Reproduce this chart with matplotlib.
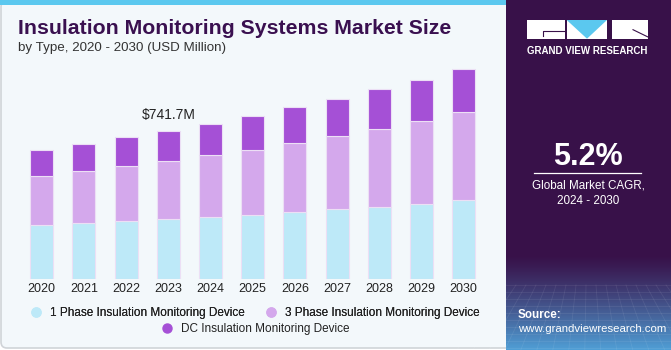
import numpy as np
import matplotlib.pyplot as plt
from matplotlib.patches import FancyBboxPatch, Rectangle, Polygon
from matplotlib.lines import Line2D

plt.rcParams["font.family"] = ["Liberation Sans", "DejaVu Sans"]

# Data (USD Million)
years = ["2020", "2021", "2022", "2023", "2024", "2025", "2026", "2027", "2028", "2029", "2030"]
phase1 = [269.6, 279.5, 289.5, 301.0, 311.0, 322.4, 335.8, 349.3, 360.8, 377.0, 395.7]
phase3 = [246.0, 261.0, 274.5, 289.5, 309.4, 324.4, 344.3, 365.8, 389.0, 412.6, 437.6]
dc = [128.3, 134.7, 144.7, 151.2, 156.2, 168.2, 178.1, 183.0, 198.0, 206.0, 217.6]
series_names = ["1 Phase Insulation Monitoring Device",
                "3 Phase Insulation Monitoring Device",
                "DC Insulation Monitoring Device"]
colors = ["#bde9f8", "#d4a8ec", "#a550d6"]

W, H = 671, 350
fig = plt.figure(figsize=(W / 100, H / 100), dpi=100)
fig.patch.set_facecolor("white")


def fx(px):
    return px / W


def fy(py):
    return 1 - py / H


# left panel background
bg = fig.add_axes([0, 0, 1, 1], zorder=-5)
bg.axis("off")
bg.add_patch(FancyBboxPatch((1, 1), 515, 347, boxstyle="round,pad=0,rounding_size=6",
                            facecolor="#f3f8fb", edgecolor="#d0d4d8", linewidth=1.2))
bg.add_patch(Rectangle((0, 0), 512, 4.5, facecolor="#5bc8ef", edgecolor="none"))

# right panel with gradient
grad = np.zeros((350, 1, 3))
top = np.array([56, 17, 73]) / 255
bot = np.array([80, 160, 215]) / 255
for i in range(350):
    t = 0 if i < 255 else ((i - 255) / 95) ** 1.2
    grad[i, 0] = top * (1 - t) + bot * t
bg.imshow(grad, extent=[506, 671, 350, 0], aspect="auto", zorder=1)
bg.set_xlim(0, W)
bg.set_ylim(H, 0)
# faint grid on gradient
for yy in np.arange(285, 350, 7):
    bg.plot([506, 671], [yy, yy], color="white", alpha=0.08, lw=0.6, zorder=2)
for xx in np.arange(506, 671, 10):
    bg.plot([xx, 588 + (xx - 588) * 1.6], [285, 350], color="white", alpha=0.08, lw=0.6, zorder=2)

# logo
bg.add_patch(Rectangle((527, 20), 38, 18.7, facecolor="white", edgecolor="none", zorder=3))
bg.plot([543, 543, 565], [36, 31.3, 31.3], color="#381149", lw=0.8, zorder=4)
bg.add_patch(Rectangle((566.7, 20), 40.3, 18.7, facecolor="white", edgecolor="none", zorder=3))
bg.add_patch(Polygon([[566.7, 20], [607, 20], [587, 38.7]], closed=True, facecolor="#5bc8ef",
                     edgecolor="none", zorder=4))
bg.add_patch(Rectangle((611.7, 20), 36.3, 18.7, facecolor="white", edgecolor="none", zorder=3))
bg.plot([633, 648], [29.7, 37], color="#381149", lw=0.8, zorder=4)
fig.text(fx(587.5), fy(50.5), "GRAND VIEW RESEARCH", color="white", fontsize=7.0,
         fontweight="bold", ha="center", va="center")

fig.text(fx(588), fy(157), "5.2%", color="white", fontsize=22, fontweight="bold",
         ha="center", va="center")
bg.plot([534, 641], [173, 173], color="white", lw=0.9, zorder=4)
fig.text(fx(588), fy(185), "Global Market CAGR,", color="white", fontsize=8.4,
         ha="center", va="center")
fig.text(fx(588), fy(201), "2024 - 2030", color="white", fontsize=8.4,
         ha="center", va="center")
fig.text(fx(518), fy(315.5), "Source:", color="white", fontsize=8.4, fontweight="bold",
         ha="left", va="center")
fig.text(fx(518), fy(329), "www.grandviewresearch.com", color="white", fontsize=8.2,
         ha="left", va="center")

# titles
fig.text(fx(18), fy(28), "Insulation Monitoring Systems Market Size", color="#3a1050",
         fontsize=15.3, fontweight="heavy", ha="left", va="center")
fig.text(fx(18), fy(48.5), "by Type, 2020 - 2030 (USD Million)", color="#333333",
         fontsize=9.6, ha="left", va="center")

# chart
ax_l, ax_r, base, ax_top = 20, 485, 279.3, 60
ax = fig.add_axes([fx(ax_l), fy(base), (ax_r - ax_l) / W, (base - ax_top) / H])
ax.set_facecolor("none")
x = np.arange(len(years))
bottom = np.zeros(len(years))
for vals, col in zip([phase1, phase3, dc], colors):
    ax.bar(x, vals, width=0.545, bottom=bottom, color=col, edgecolor="#ecdff5",
           linewidth=0.8)
    bottom += np.array(vals)
ax.set_xlim((ax_l - 41.7) / 42.2, (ax_r - 41.7) / 42.2)
ax.set_ylim(0, (base - ax_top) * 4.99)
ax.set_xticks(x)
ax.set_xticklabels(years, fontsize=9, color="#222222")
ax.tick_params(axis="x", length=0, pad=3)
ax.set_yticks([])
for s in ax.spines.values():
    s.set_visible(False)

total_2023 = phase1[3] + phase3[3] + dc[3]
ax.annotate(f"${total_2023:.1f}M", (3, total_2023), xytext=(0, 6), textcoords="offset points",
            ha="center", va="bottom", fontsize=10, color="#222222")

# legend
h = [Line2D([0], [0], marker="o", linestyle="None", markersize=6.5, color=c) for c in colors]
leg1 = fig.legend(h[:2], series_names[:2], loc="center", bbox_to_anchor=(fx(252), fy(313)),
                  ncol=2, frameon=False, fontsize=8.5, handletextpad=0.2, columnspacing=1.2,
                  labelcolor="#222222")
fig.legend(h[2:], series_names[2:], loc="center", bbox_to_anchor=(fx(252), fy(329)),
           frameon=False, fontsize=8.5, handletextpad=0.2, labelcolor="#222222")
fig.add_artist(leg1)

fig.savefig("out.png", dpi=100)
